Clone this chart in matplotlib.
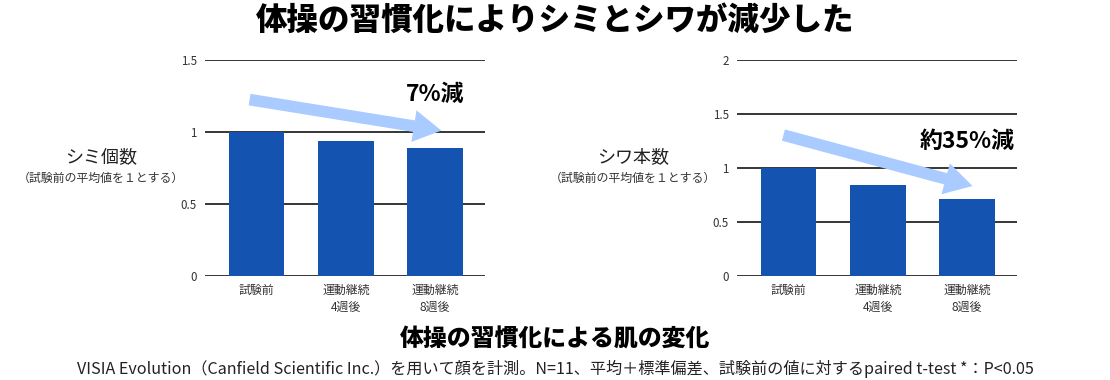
import matplotlib
matplotlib.use('Agg')
import matplotlib.pyplot as plt

plt.rcParams['font.family'] = ['Noto Sans CJK JP', 'DejaVu Sans']

categories = ['試験前', '運動継続\n4週後', '運動継続\n8週後']
spots = [1.0, 0.94, 0.89]
wrinkles = [1.0, 0.84, 0.71]

BAR = '#1454b0'
ARROW = '#a9cbff'

fig = plt.figure(figsize=(11.1, 3.8), dpi=100)


def panel(rect, values, ymax, ystep, ylabel, note, arrow, arrow_y):
    ax = fig.add_axes(rect)
    x = range(len(values))
    ax.bar(x, values, width=0.62, color=BAR, zorder=2)
    ax.set_xlim(-0.58, 2.56)
    ax.set_ylim(0, ymax)
    ticks = [i * ystep for i in range(int(round(ymax / ystep)) + 1)]
    ax.set_yticks(ticks)
    ax.set_yticklabels(['%g' % t for t in ticks], fontsize=8.3, color='#333333')
    ax.set_xticks(list(x))
    ax.set_xticklabels(categories, fontsize=8.6, color='#333333', linespacing=1.35)
    ax.tick_params(length=0, pad=6)
    for s in ax.spines.values():
        s.set_visible(False)
    ax.grid(axis='y', color='black', linewidth=1.1)
    ax.set_axisbelow(True)

    (x0, y0), (x1, y1) = arrow_y
    ax.annotate('', xy=(x1, y1), xytext=(x0, y0),
                arrowprops=dict(arrowstyle='simple,tail_width=0.42,head_width=1.15,head_length=1.0',
                                mutation_scale=20, color=ARROW, shrinkA=0, shrinkB=0,
                                lw=0),
                zorder=3)
    ax.text(arrow[0], arrow[1], arrow[2], fontsize=16.5, fontweight='bold',
            ha='center', va='center', zorder=4)

    # label left of the axes
    lx = rect[0] - 0.094
    fig.text(lx, 0.587, ylabel, fontsize=13, ha='center', va='center', color='#222222')
    fig.text(lx, 0.531, note, fontsize=8.6, ha='center', va='center', color='#333333')
    return ax


panel([0.1847, 0.2737, 0.2523, 0.5684], spots, 1.5, 0.5,
      'シミ個数', '（試験前の平均値を１とする）',
      (2.0, 1.26, '7%減'), ((-0.08, 1.225), (2.07, 1.01)))
panel([0.664, 0.2737, 0.2523, 0.5684], wrinkles, 2.0, 0.5,
      'シワ本数', '（試験前の平均値を１とする）',
      (2.0, 1.25, '約35%減'), ((-0.06, 1.305), (2.06, 0.833)))

fig.text(0.5, 0.947, '体操の習慣化によりシミとシワが減少した', fontsize=22.7,
         fontweight='heavy', ha='center', va='center')
fig.text(0.5, 0.108, '体操の習慣化による肌の変化', fontsize=17.2,
         fontweight='heavy', ha='center', va='center')
fig.text(0.5, 0.030,
         'VISIA Evolution（Canfield Scientific Inc.）を用いて顔を計測。N=11、平均＋標準偏差、試験前の値に対するpaired t-test *：P<0.05',
         fontsize=11.6, ha='center', va='center', color='#222222')

fig.savefig('out.png', dpi=100)
